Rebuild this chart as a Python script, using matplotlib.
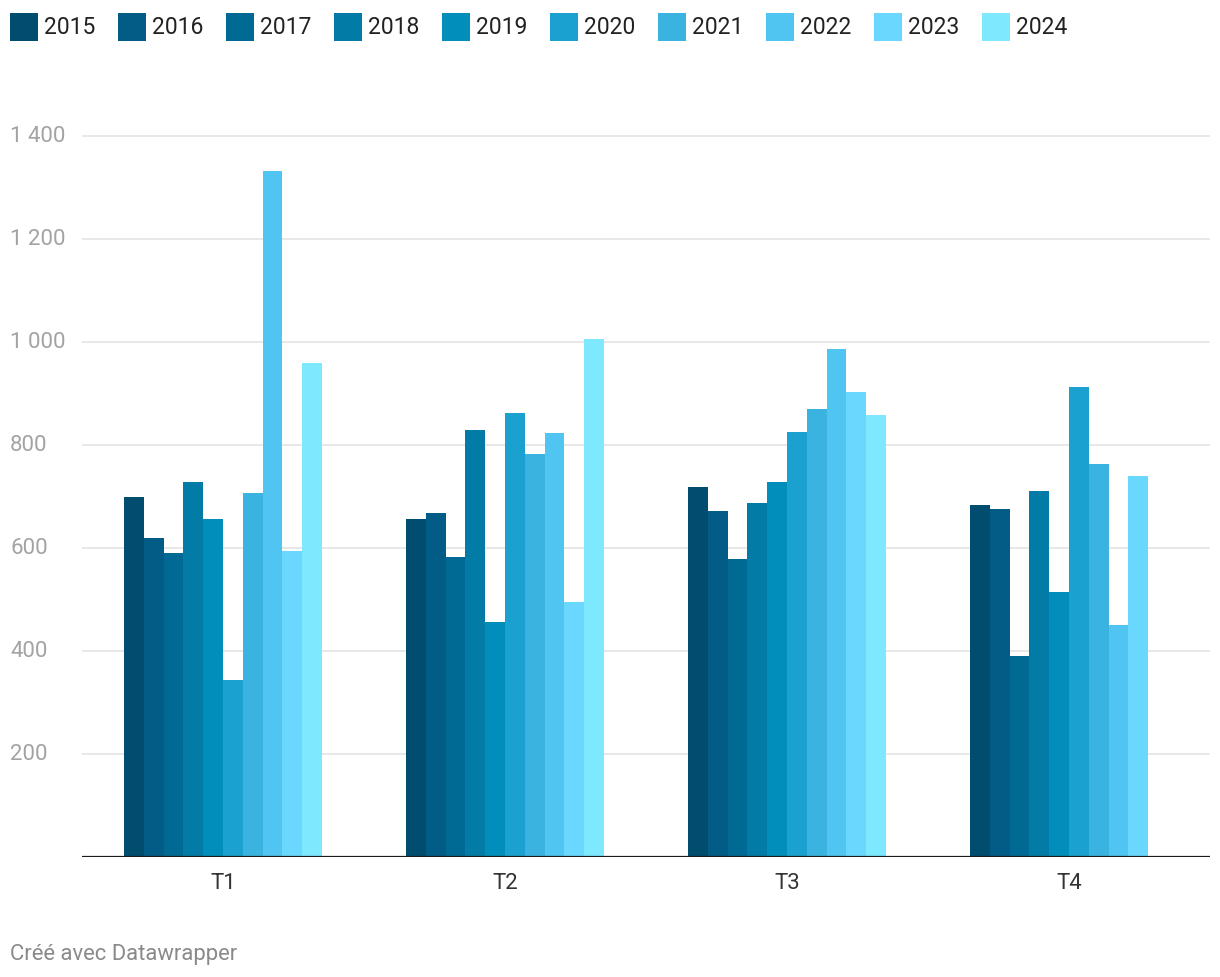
import numpy as np
import matplotlib
matplotlib.use("Agg")
import matplotlib.pyplot as plt
from matplotlib.patches import Rectangle

plt.rcParams['font.family'] = ['Roboto', 'DejaVu Sans']

# data
quarters = ['T1', 'T2', 'T3', 'T4']
years = ['2015', '2016', '2017', '2018', '2019', '2020', '2021', '2022', '2023', '2024']
values = {
    '2015': [699, 656, 717, 682],
    '2016': [619, 667, 670, 674],
    '2017': [590, 582, 578, 390],
    '2018': [728, 828, 686, 709],
    '2019': [656, 455, 727, 513],
    '2020': [342, 861, 824, 911],
    '2021': [705, 781, 869, 763],
    '2022': [1332, 823, 986, 450],
    '2023': [594, 495, 902, 738],
    '2024': [959, 1004, 857, np.nan],
}
colors = ['#004d70', '#025c86', '#016a94', '#027ca6', '#028ebb',
          '#1aa1cf', '#3bb3e0', '#51c5f1', '#6ad8fe', '#7ee8ff']
yticks = [200, 400, 600, 800, 1000, 1200, 1400]

W, H = 1220, 978
base = 857.5  # pixel row of the zero line
fig = plt.figure(figsize=(W / 100, H / 100), dpi=100)
ax = fig.add_axes([82 / W, 1 - base / H, (1210 - 82) / W, (base - 112) / H])

x = np.arange(len(quarters))
bw = 0.0702
for i, y in enumerate(years):
    ax.bar(x + (i - 4.5) * bw, values[y], width=bw, color=colors[i],
           linewidth=0, zorder=2)

ax.set_xlim(-0.5, 3.5)
ax.set_ylim(0, (base - 112) / 0.515)

for t in yticks:
    ax.axhline(t, color='#e6e6e6', lw=1.3, zorder=1)
    fig.text(10 / W, 1 - (base - t * 0.515) / H, '{:,}'.format(t).replace(',', ' '),
             ha='left', va='center', fontsize=16, color='#a3a3a3')
ax.axhline(0, color='#1a1a1a', lw=1.6, zorder=3)

ax.set_yticks([])
ax.set_xticks(x)
ax.set_xticklabels(quarters, fontsize=16, color='#333333')
ax.tick_params(axis='x', length=0, pad=11)
for s in ax.spines.values():
    s.set_visible(False)

# legend
for i, y in enumerate(years):
    lx = 10 + i * 108
    fig.add_artist(Rectangle((lx / W, 1 - 42 / H), 28 / W, 28 / H,
                             transform=fig.transFigure, color=colors[i], lw=0))
    fig.text((lx + 34) / W, 1 - 27 / H, y, ha='left', va='center',
             fontsize=16.5, color='#222222')

fig.text(10 / W, 1 - 955 / H, 'Créé avec Datawrapper', ha='left', va='center',
         fontsize=15.8, color='#8a8a8a')

fig.savefig('out.png', dpi=100)
